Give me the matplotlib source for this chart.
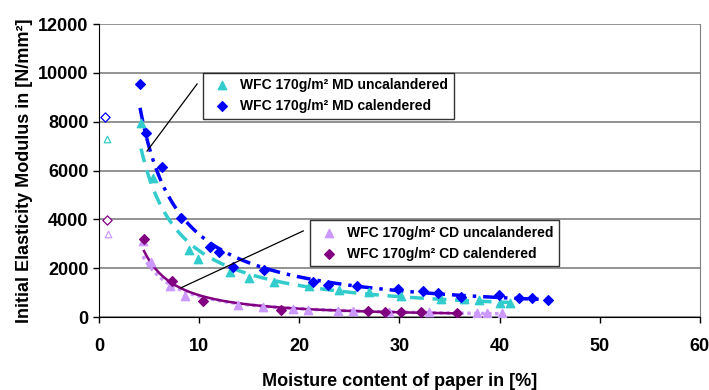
import numpy as np
from matplotlib import pyplot as plt

plt.rcParams['font.family'] = ['Liberation Sans', 'DejaVu Sans']
plt.rcParams['font.weight'] = 'bold'

# MD uncalandered (triangles)
md_unc_x = [4.2, 5.4, 9.0, 9.9, 13.1, 15.0, 17.5, 21.0, 24.0, 27.0, 30.2, 34.2, 36.5, 38.0, 40.0, 41.0]
md_unc_y = [7970, 5680, 2740, 2360, 1860, 1620, 1450, 1280, 1100, 1020, 850, 760, 720, 700, 580, 560]
# MD calendered (diamonds)
md_cal_x = [4.1, 4.7, 6.3, 8.2, 11.1, 12.0, 13.4, 16.5, 21.4, 22.9, 25.8, 29.9, 32.4, 33.9, 36.2, 39.9, 41.9, 43.2, 44.8]
md_cal_y = [9550, 7560, 6130, 4040, 2860, 2680, 2060, 1920, 1450, 1310, 1270, 1150, 1060, 1000, 810, 890, 800, 780, 700]
# CD uncalandered
cd_unc_x = [4.4, 5.2, 7.1, 8.6, 13.9, 16.4, 19.4, 20.9, 23.9, 25.4, 29.0, 33.0, 37.8, 38.8, 40.2]
cd_unc_y = [3100, 2250, 1270, 860, 500, 410, 330, 290, 260, 240, 210, 190, 170, 160, 150]
# CD calendered
cd_cal_x = [4.5, 7.3, 10.4, 18.2, 26.9, 28.6, 30.2, 32.2, 35.8]
cd_cal_y = [3190, 1470, 660, 300, 250, 220, 200, 190, 160]

# dry reference values (open markers)
dry_x = [0.6, 0.8, 0.8, 0.9]
dry_y = [8190, 7290, 3970, 3400]

names = ['WFC 170g/m² MD uncalandered', 'WFC 170g/m² MD calendered',
         'WFC 170g/m² CD uncalandered', 'WFC 170g/m² CD calendered']

c_cyan = '#33CCCC'
c_blue = '#0000FF'
c_lilac = '#CC99FF'
c_purple = '#800080'


def power_trend(x, y):
    b, ln_a = np.polyfit(np.log(x), np.log(y), 1)
    xs = np.linspace(min(x), max(x), 200)
    return xs, np.exp(ln_a) * xs ** b


fig = plt.figure(figsize=(7.09, 3.9), dpi=100)
ax = fig.add_axes([0.1396, 0.187, 0.8474, 0.751])

# trendlines
xs, ys = power_trend(cd_unc_x, cd_unc_y)
ax.plot(xs, ys, color=c_lilac, lw=2.5, ls=(0, (1, 1)), zorder=2)
xs, ys = power_trend(md_unc_x, md_unc_y)
ax.plot(xs, ys, color=c_cyan, lw=2.5, ls=(0, (4, 2.5)), zorder=2)
xs, ys = power_trend(md_cal_x, md_cal_y)
ax.plot(xs, ys, color=c_blue, lw=2.5, ls=(0, (4, 2, 1, 2)), zorder=2)
xs, ys = power_trend(cd_cal_x, cd_cal_y)
ax.plot(xs, ys, color=c_purple, lw=1.8, zorder=2)

h1 = ax.scatter(md_unc_x, md_unc_y, marker='^', s=36, color=c_cyan, zorder=3, label=names[0])
h2 = ax.scatter(md_cal_x, md_cal_y, marker='D', s=24, color=c_blue, zorder=3, label=names[1])
h3 = ax.scatter(cd_unc_x, cd_unc_y, marker='^', s=36, color=c_lilac, zorder=3, label=names[2])
h4 = ax.scatter(cd_cal_x, cd_cal_y, marker='D', s=24, color=c_purple, zorder=3, label=names[3])

dry_cols = [c_blue, c_cyan, c_purple, c_lilac]
dry_marks = ['D', '^', 'D', '^']
for x, y, c, m in zip(dry_x, dry_y, dry_cols, dry_marks):
    ax.scatter([x], [y], marker=m, s=22, facecolors='white', edgecolors=c, linewidths=0.9, zorder=3)

ax.set_xlim(0, 60)
ax.set_ylim(0, 12000)
ax.set_xticks(range(0, 61, 10))
ax.set_yticks(range(0, 12001, 2000))
ax.yaxis.grid(True, color='#808080', lw=1.2)
ax.set_axisbelow(True)
ax.spines['top'].set_visible(False)
ax.spines['right'].set_color('#808080')
ax.tick_params(labelsize=13, length=4, width=1)
for lab in ax.get_xticklabels() + ax.get_yticklabels():
    lab.set_fontweight('bold')
ax.tick_params(axis='x', pad=11)
ax.set_xlabel('Moisture content of paper in [%]', fontsize=13, fontweight='bold', labelpad=13)
ax.set_ylabel('Initial Elasticity Modulus in [N/mm²]', fontsize=13, fontweight='bold', labelpad=4)

leg1 = ax.legend(handles=[h1, h2], loc='upper left', bbox_to_anchor=(0.173, 0.835),
                 fontsize=10, frameon=True, fancybox=False, edgecolor='black',
                 borderpad=0.4, handletextpad=0.3, labelspacing=0.5, borderaxespad=0)
leg1.get_frame().set_linewidth(1.0)
for t in leg1.get_texts():
    t.set_fontweight('bold')
ax.add_artist(leg1)
leg2 = ax.legend(handles=[h3, h4], loc='upper left', bbox_to_anchor=(0.351, 0.33),
                 fontsize=10, frameon=True, fancybox=False, edgecolor='black',
                 borderpad=0.4, handletextpad=0.3, labelspacing=0.5, borderaxespad=0)
leg2.get_frame().set_linewidth(1.0)
for t in leg2.get_texts():
    t.set_fontweight('bold')

# leader lines from legends to curves
ax.plot([9.8, 4.8], [9550, 6800], color='black', lw=0.9, zorder=4)
ax.plot([8.2, 20.4], [1200, 3530], color='black', lw=0.9, zorder=4)

fig.savefig('out.png', dpi=100)
